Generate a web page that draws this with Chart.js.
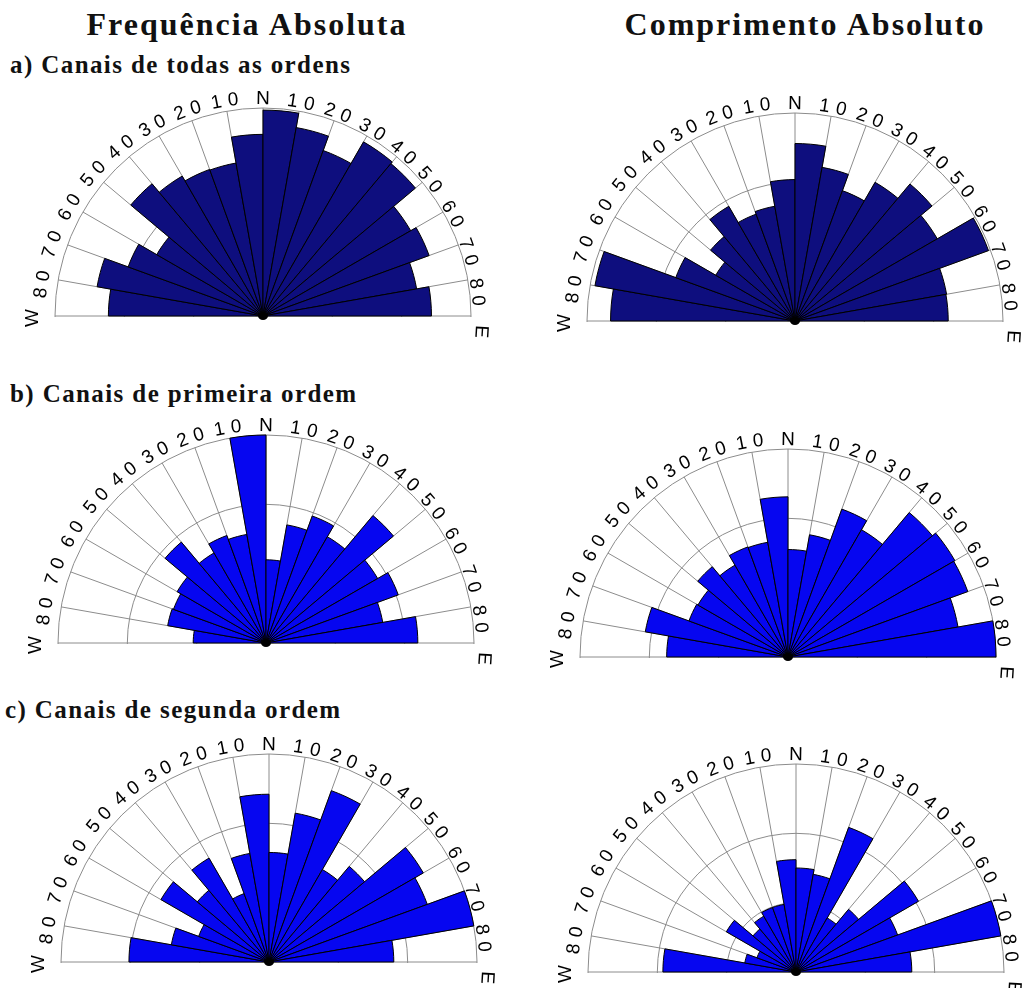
<!DOCTYPE html>
<html>
<head>
<meta charset="utf-8">
<script src="https://cdn.jsdelivr.net/npm/chart.js@4.4.0/dist/chart.umd.min.js"></script>
<style>
html, body { margin: 0; padding: 0; overflow: hidden; }
body { width: 1028px; height: 988px; position: relative; background: #fff; font-family: "Liberation Serif", "Times New Roman", serif; color: #111; }
.head { position: absolute; top: 8px; width: 420px; text-align: center; font-weight: bold; font-size: 32px; line-height: 1; letter-spacing: 2px; white-space: nowrap; }
.sub { position: absolute; font-weight: bold; font-size: 25px; line-height: 1; letter-spacing: 1.4px; white-space: nowrap; }
.rose { position: absolute; width: 496px; height: 496px; }
</style>
</head>
<body>
<div class="head" style="left:37px">Frequência Absoluta</div>
<div class="head" style="left:595px">Comprimento Absoluto</div>
<div class="sub" style="left:10px;top:52px">a) Canais de todas as ordens</div>
<div class="sub" style="left:10px;top:381px">b) Canais de primeira ordem</div>
<div class="sub" style="left:5px;top:697px">c) Canais de segunda ordem</div>

<div class="rose" style="left:15px;top:68px"><canvas id="freqAll" width="496" height="496"></canvas></div>
<div class="rose" style="left:547px;top:73px"><canvas id="lenAll" width="496" height="496"></canvas></div>
<div class="rose" style="left:18px;top:395px"><canvas id="freqFirst" width="496" height="496"></canvas></div>
<div class="rose" style="left:540px;top:409px"><canvas id="lenFirst" width="496" height="496"></canvas></div>
<div class="rose" style="left:21px;top:714px"><canvas id="freqSecond" width="496" height="496"></canvas></div>
<div class="rose" style="left:548px;top:724px"><canvas id="lenSecond" width="496" height="496"></canvas></div>

<script>
// 10 degree direction classes, from W (N90W) round through N to E (N90E)
const sectors = ["N90W-N80W", "N80W-N70W", "N70W-N60W", "N60W-N50W", "N50W-N40W", "N40W-N30W",
                 "N30W-N20W", "N20W-N10W", "N10W-N0", "N0-N10E", "N10E-N20E", "N20E-N30E",
                 "N30E-N40E", "N40E-N50E", "N50E-N60E", "N60E-N70E", "N70E-N80E", "N80E-N90E"];

// compass labels round the half circle and their azimuths
const compassLabels = ["W", "80", "70", "60", "50", "40", "30", "20", "10", "N",
                       "10", "20", "30", "40", "50", "60", "70", "80", "E"];
const compassAngles = [-90, -80, -70, -60, -50, -40, -30, -20, -10, 0,
                       10, 20, 30, 40, 50, 60, 70, 80, 90];

// radial scale (outer ring = 30, rings every 10)
const scaleMax = 30;
const scaleStep = 10;

// a) all orders
const freqAll = [22.3, 24.3, 20.7, 17.7, 24.9, 23.3, 22.5, 22.4, 26.2, 29.7, 27.6, 25.4, 29.0, 28.7, 24.6, 25.5, 22.5, 24.3];
const lenAll = [26.6, 29.3, 18.3, 13.2, 15.9, 19.1, 16.4, 16.8, 20.4, 25.6, 22.5, 20.0, 23.1, 25.8, 23.7, 29.7, 22.2, 22.1];
// b) first order
const freqFirst = [10.5, 14.4, 14.2, 14.8, 19.0, 15.0, 16.5, 15.9, 30.0, 12.0, 17.3, 19.5, 17.7, 24.0, 18.6, 20.3, 17.1, 21.9];
const lenFirst = [17.5, 20.9, 15.2, 15.0, 17.0, 15.3, 16.9, 16.8, 23.1, 15.5, 17.9, 22.7, 21.2, 27.2, 27.8, 27.6, 24.9, 30.0];
// c) second order
const freqSecond = [20.2, 14.3, 10.8, 18.0, 13.5, 17.3, 10.5, 15.9, 24.2, 15.8, 21.8, 26.3, 15.4, 18.0, 25.7, 24.3, 30.0, 18.0];
const lenSecond = [19.2, 7.5, 6.0, 11.6, 8.1, 9.3, 9.9, 9.9, 16.2, 15.0, 14.3, 22.2, 9.0, 11.8, 20.4, 15.6, 30.0, 16.7];

const navy = "#0e0e7e";
const blue = "#0606f0";
const gridColor = "#8c8c8c";

// only the upper half of the rose is shown; labels drawn along the arc
const halfRose = {
    id: "halfRose",
    beforeDraw(chart) {
        const s = chart.scales.r;
        const ctx = chart.ctx;
        ctx.save();
        ctx.beginPath();
        ctx.rect(0, 0, chart.width, s.yCenter + 1);
        ctx.clip();
    },
    afterDraw(chart) {
        const s = chart.scales.r;
        const ctx = chart.ctx;
        ctx.restore();

        // black hub where all sector edges meet
        ctx.save();
        ctx.fillStyle = "#000";
        ctx.beginPath();
        ctx.ellipse(s.xCenter, s.yCenter, 5, 4, 0, 0, Math.PI * 2);
        ctx.fill();
        ctx.restore();

        const ox = s.xCenter - 4;
        const oy = s.yCenter + 2;
        ctx.save();
        ctx.font = '19px "Liberation Sans", Arial, sans-serif';
        ctx.fillStyle = "#000";
        ctx.textAlign = "center";
        ctx.textBaseline = "alphabetic";
        compassLabels.forEach((txt, k) => {
            let a = compassAngles[k];
            let rb = s.drawingArea + 6;
            if (a === -90) {
                rb += 7;
            } else if (a === 90) {
                rb += 3;
                a = 93.5;
            } else {
                a += 1 + Math.sign(a) * Math.max(0, Math.abs(a) - 50) / 30 * 2.2;
            }
            const chars = [...txt];
            const adv = chars.map(c => ctx.measureText(c).width + 6);
            const total = adv.reduce((p, q) => p + q, 0);
            let pos = -total / 2;
            chars.forEach((c, j) => {
                const phi = a * Math.PI / 180 + (pos + adv[j] / 2) / rb;
                ctx.save();
                ctx.translate(ox + rb * Math.sin(phi), oy - rb * Math.cos(phi));
                ctx.rotate(phi);
                ctx.fillText(c, 0, 0);
                ctx.restore();
                pos += adv[j];
            });
        });
        ctx.restore();
    }
};

function makeRose(id, values, color) {
    new Chart(id, {
        type: "polarArea",
        data: {
            // 36 labels so the angle lines fall every 10 degrees; lower half stays empty
            labels: sectors.concat(new Array(18).fill("")),
            datasets: [{
                data: values,
                angle: 10,
                backgroundColor: color,
                borderColor: "#000",
                borderWidth: 1
            }]
        },
        options: {
            responsive: false,
            animation: false,
            events: [],
            layout: { padding: 40 },
            plugins: {
                legend: { display: false },
                tooltip: { enabled: false }
            },
            scales: {
                r: {
                    min: 0,
                    max: scaleMax,
                    startAngle: -90,
                    ticks: { display: false, stepSize: scaleStep },
                    grid: { circular: true, color: gridColor, lineWidth: 1 },
                    angleLines: { display: true, color: gridColor, lineWidth: 1 },
                    pointLabels: { display: false }
                }
            }
        },
        plugins: [halfRose]
    });
}

makeRose("freqAll", freqAll, navy);
makeRose("lenAll", lenAll, navy);
makeRose("freqFirst", freqFirst, blue);
makeRose("lenFirst", lenFirst, blue);
makeRose("freqSecond", freqSecond, blue);
makeRose("lenSecond", lenSecond, blue);
</script>
</body>
</html>
